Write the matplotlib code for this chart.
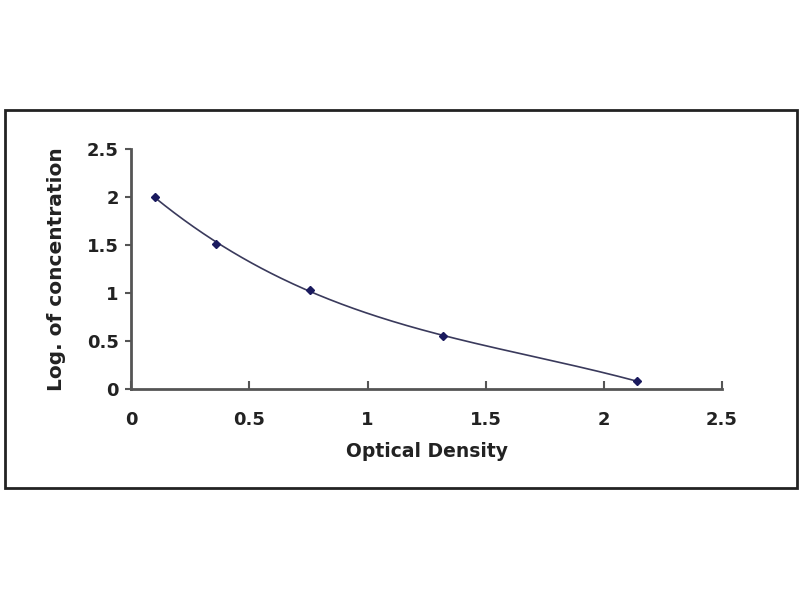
import numpy as np
import matplotlib
matplotlib.use('Agg')
import matplotlib.pyplot as plt
from matplotlib.patches import Rectangle

# standard curve points
od = np.array([0.10, 0.36, 0.757, 1.32, 2.14])
log_conc = np.array([2.0, 1.51, 1.03, 0.55, 0.08])

xticks = [0, 0.5, 1, 1.5, 2, 2.5]
yticks = [0, 0.5, 1, 1.5, 2, 2.5]

plt.rcParams['font.family'] = ['DejaVu Sans']
plt.rcParams['font.weight'] = 'bold'

fig = plt.figure(figsize=(8, 6), dpi=100)
fig.patch.set_facecolor('white')

# outer frame around the plot area
fig.patches.append(Rectangle((0.00625, 0.187), 0.99, 0.63, transform=fig.transFigure,
                             fill=False, edgecolor='#222222', linewidth=2))

ax = fig.add_axes([0.164, 0.352, 0.7385, 0.4])

# trend line
coef = np.polyfit(od, log_conc, 3)
xs = np.linspace(od.min(), od.max(), 200)
ax.plot(xs, np.polyval(coef, xs), color='#3a3a5c', linewidth=1.2)
ax.plot(od, log_conc, linestyle='none', marker='D', markersize=4.5,
        color='#1a1a5e')

ax.set_xlim(0, 2.5)
ax.set_ylim(0, 2.5)
ax.set_xticks(xticks)
ax.set_yticks(yticks)
ax.set_xticklabels([f'{t:g}' for t in xticks])
ax.set_yticklabels([f'{t:g}' for t in yticks])

for s in ['top', 'right']:
    ax.spines[s].set_visible(False)
for s in ['left', 'bottom']:
    ax.spines[s].set_color('#555555')
    ax.spines[s].set_linewidth(2)

ax.tick_params(axis='x', direction='in', length=6, width=1.5, color='#555555',
               labelsize=13, pad=16, labelcolor='#222222')
ax.tick_params(axis='y', direction='out', length=4, width=1.5, color='#555555',
               labelsize=13, pad=5, labelcolor='#222222')

ax.set_xlabel('Optical Density', fontsize=13.5, fontweight='bold', color='#222222', labelpad=9)
ax.set_ylabel('Log. of concentration', fontsize=14.5, fontweight='bold', color='#222222', labelpad=15)

fig.savefig('out.png', dpi=100, facecolor='white')
